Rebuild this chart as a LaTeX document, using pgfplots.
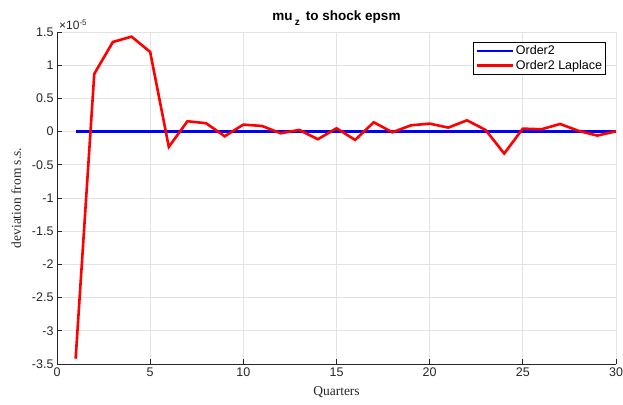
\documentclass[border=0pt]{standalone}
\usepackage{fontspec}
\setmainfont{Liberation Sans}
\newfontfamily\seriffont{Liberation Serif}
\usepackage{pgfplots}
\pgfplotsset{compat=1.18}
\definecolor{axgray}{HTML}{262626}
\definecolor{gridgray}{HTML}{E3E3E3}
\begin{document}
\begin{tikzpicture}
\useasboundingbox (0,0) rectangle (623pt,404pt);
\begin{axis}[
  at={(57pt,40pt)}, anchor=south west,
  scale only axis, width=559pt, height=332pt,
  xmin=0, xmax=30, ymin=-3.5e-5, ymax=1.5e-5,
  xtick={0,5,10,15,20,25,30},
  ytick={-3.5e-5,-3e-5,-2.5e-5,-2e-5,-1.5e-5,-1e-5,-0.5e-5,0,0.5e-5,1e-5,1.5e-5},
  scaled y ticks=base 10:5,
  ytick scale label code/.code={×10\textsuperscript{#1}},
  every y tick scale label/.style={at={(rel axis cs:0,1)}, anchor=south west, inner sep=1pt, xshift=1pt, yshift=1pt, font=\fontsize{12}{14}\selectfont, text=axgray},
  axis x line*=bottom, axis y line*=left,
  axis line style={axgray, line width=0.7pt, -},
  tick align=inside, major tick length=5pt,
  tick style={axgray, line width=0.7pt},
  grid=major, grid style={gridgray, line width=0.7pt},
  tick label style={font=\fontsize{12.5}{14}\selectfont, text=axgray},
  /pgf/number format/assume math mode=true,
  title={\textbf{mu\,\raisebox{-0.7ex}{\fontsize{10}{11}\selectfont\textbf{z}}\, to shock epsm}},
  title style={font=\fontsize{13.5}{15}\selectfont, yshift=-3pt},
  xlabel={\seriffont Quarters},
  ylabel={\seriffont deviation from s.s.},
  label style={font=\fontsize{13.5}{15}\selectfont, text=axgray},
  xlabel style={yshift=-3pt},
  ylabel style={yshift=4pt},
  legend style={at={(rel axis cs:0.982,0.97)}, anchor=north east, draw=black, line width=0.7pt, font=\fontsize{12.5}{14}\selectfont, inner sep=1.5pt},
  legend cell align=left,
  legend image code/.code={\draw[#1] (0pt,0pt) -- (36pt,0pt);},
]
\addplot[blue, line width=2.6pt] coordinates {
(1,0)(2,0)(3,0)(4,0)(5,0)(6,0)(7,0)(8,0)(9,0)(10,0)(11,0)(12,0)(13,0)(14,0)(15,0)
(16,0)(17,0)(18,0)(19,0)(20,0)(21,0)(22,0)(23,0)(24,0)(25,0)(26,0)(27,0)(28,0)(29,0)(30,0)};
\addlegendentry{Order2}
\addplot[red, line width=2.6pt] coordinates {
(1,-3.42e-5)(2,0.87e-5)(3,1.35e-5)(4,1.43e-5)(5,1.20e-5)(6,-0.23e-5)(7,0.156e-5)(8,0.126e-5)
(9,-0.07e-5)(10,0.105e-5)(11,0.085e-5)(12,-0.025e-5)(13,0.025e-5)(14,-0.115e-5)(15,0.05e-5)
(16,-0.125e-5)(17,0.14e-5)(18,-0.01e-5)(19,0.095e-5)(20,0.12e-5)(21,0.06e-5)(22,0.17e-5)
(23,0.025e-5)(24,-0.33e-5)(25,0.045e-5)(26,0.035e-5)(27,0.115e-5)(28,0.01e-5)(29,-0.06e-5)(30,0.005e-5)};
\addlegendentry{Order2 Laplace}
\end{axis}
\end{tikzpicture}
\end{document}
